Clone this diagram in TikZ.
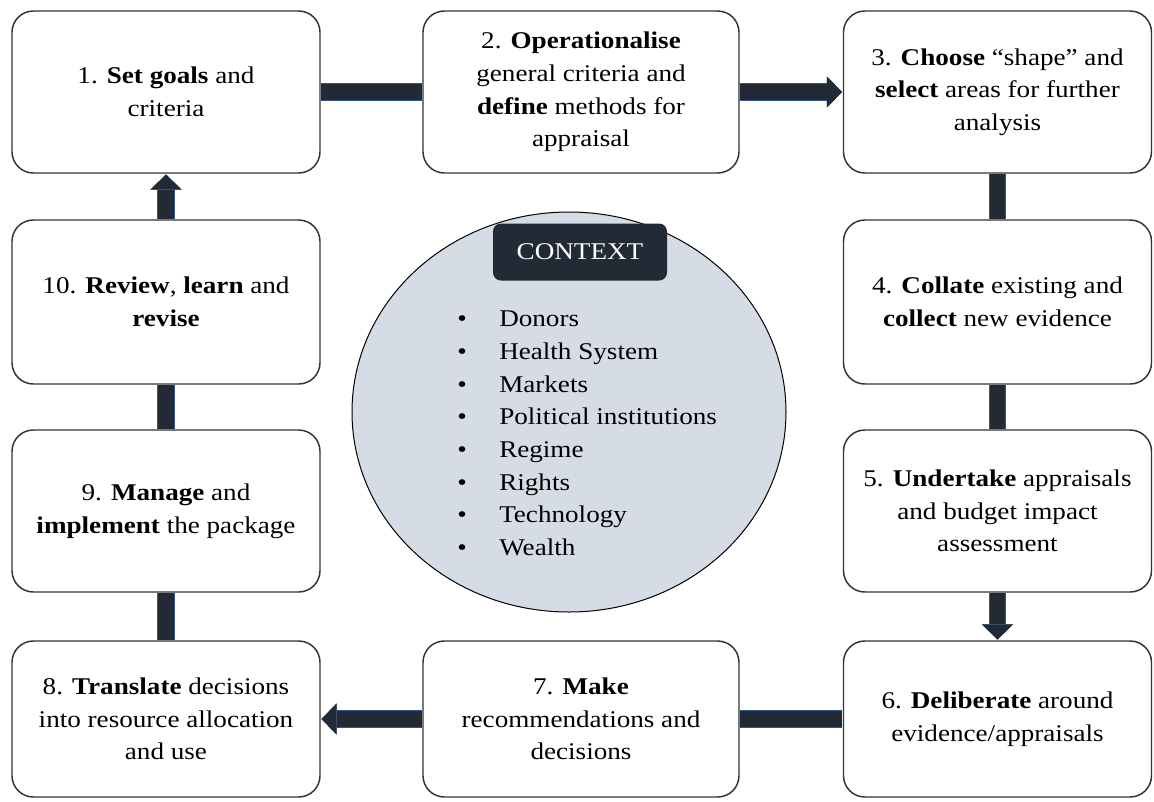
\documentclass[tikz,border=0pt]{standalone}
\usepackage{fontspec}
\setmainfont{Liberation Serif}[FakeStretch=1.13]
\usetikzlibrary{shapes.geometric, arrows.meta}

\definecolor{linkfill}{HTML}{222A35}
\definecolor{linkedge}{HTML}{2F5597}
\definecolor{ctxfill}{HTML}{D6DCE5}

\begin{document}
\begin{tikzpicture}[x=0.75pt, y=-0.75pt,
					font=\fontsize{18pt}{24.5pt}\selectfont,
					every node/.style={align=center},
					stage/.style={draw=black!80, line width=1.1pt, rounded corners=16pt,
						fill=white, minimum width=231pt, minimum height=121.5pt},
					link/.style={line width=11.5pt, draw=linkfill, shorten <=0.5pt, shorten >=0.5pt,
						preaction={draw=linkedge, line width=13pt}},
					head/.style={-{Triangle[length=11.5pt, width=23.5pt, line width=0pt]}}]

	\useasboundingbox (0,0) rectangle (1154,801);

	% centre: context ellipse
	\node[ellipse, draw, line width=0.75pt, fill=ctxfill,
		minimum width=325.5pt, minimum height=300pt] (context) at (569,412) {};
	\node[fill=linkfill, text=white, rounded corners=6pt,
		minimum width=130.5pt, minimum height=42.75pt] (ctxlabel) at (580,252) {CONTEXT};
	\node[anchor=north west, align=left, inner sep=0pt] (factors) at (457,311)
		{\makebox[31.5pt][l]{•}Donors\\
		 \makebox[31.5pt][l]{•}Health System\\
		 \makebox[31.5pt][l]{•}Markets\\
		 \makebox[31.5pt][l]{•}Political institutions\\
		 \makebox[31.5pt][l]{•}Regime\\
		 \makebox[31.5pt][l]{•}Rights\\
		 \makebox[31.5pt][l]{•}Technology\\
		 \makebox[31.5pt][l]{•}Wealth};

	% the ten stages
	\node[stage] (goals) at (166,92) {1. \textbf{Set goals} and\\criteria};
	\node[stage, minimum width=237pt] (operate) at (581,92)
		{2. \textbf{Operationalise}\\general criteria and\\\textbf{define} methods for\\appraisal};
	\node[stage] (choose) at (997.5,92)
		{3. \textbf{Choose} ``shape'' and\\\textbf{select} areas for further\\analysis};
	\node[stage, minimum height=123pt] (collate) at (997.5,302)
		{4. \textbf{Collate} existing and\\\textbf{collect} new evidence};
	\node[stage] (appraise) at (997.5,511)
		{5. \textbf{Undertake} appraisals\\and budget impact\\assessment};
	\node[stage, minimum height=117pt] (deliberate) at (997.5,719)
		{6. \textbf{Deliberate} around\\evidence/appraisals};
	\node[stage, minimum width=237pt, minimum height=117pt] (decide) at (581,719)
		{7. \textbf{Make}\\recommendations and\\decisions};
	\node[stage, minimum height=117pt] (translate) at (166,719)
		{8. \textbf{Translate} decisions\\into resource allocation\\and use};
	\node[stage] (manage) at (166,511)
		{9. \textbf{Manage} and\\\textbf{implement} the package};
	\node[stage, minimum height=123pt] (review) at (166,302)
		{10. \textbf{Review}, \textbf{learn} and\\\textbf{revise}};

	\draw	(goals) edge [link] (operate)
			(operate) edge [link, head] (choose)
			(choose) edge [link] (collate)
			(collate) edge [link] (appraise)
			(appraise) edge [link, head] (deliberate)
			(deliberate) edge [link] (decide)
			(decide) edge [link, head] (translate)
			(translate) edge [link] (manage)
			(manage) edge [link] (review)
			(review) edge [link, head] (goals)
	;
\end{tikzpicture}
\end{document}
